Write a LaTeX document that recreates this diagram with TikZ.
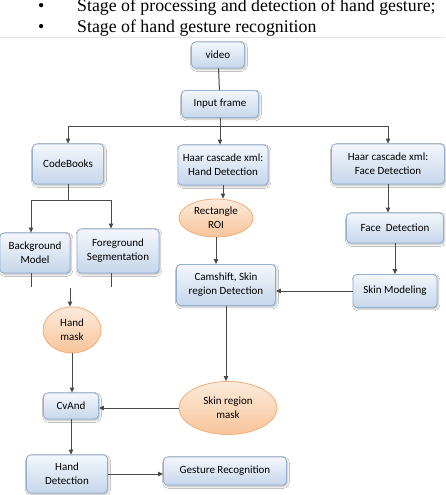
\documentclass[tikz,border=0pt]{standalone}
\usepackage{fontspec}
\setmainfont{Liberation Serif}
\newfontfamily\boxfont{Carlito}
\usepackage{tikz}
\usetikzlibrary{arrows.meta,positioning,shadows.blur,shapes.geometric}
\definecolor{boxtop}{HTML}{F4F7FC}
\definecolor{boxbot}{HTML}{C6D6EB}
\definecolor{boxline}{HTML}{93AFD3}
\definecolor{blobtop}{HTML}{FDEBDC}
\definecolor{blobbot}{HTML}{F8C49A}
\definecolor{blobline}{HTML}{F1AE7A}
\definecolor{wire}{HTML}{4A4A4A}
\definecolor{rule}{HTML}{E3E3E3}
\tikzset{
  stage/.style={
    rectangle, rounded corners=4pt,
    draw=boxline, line width=0.8pt,
    top color=boxtop, bottom color=boxbot,
    blur shadow={shadow blur steps=4, shadow xshift=1pt, shadow yshift=-1.5pt, shadow opacity=30},
    align=center, font=\boxfont\fontsize{11}{14}\selectfont,
    inner sep=1pt
  },
  blob/.style={
    ellipse, draw=blobline, line width=0.8pt,
    top color=blobtop, bottom color=blobbot,
    align=center, font=\boxfont\fontsize{11}{14}\selectfont,
    inner sep=0pt
  },
  wireline/.style={draw=wire, line width=1pt},
  edge/.style={wireline, -{Triangle[length=5pt, width=4.5pt]}},
  bullettext/.style={anchor=base west, font=\fontsize{17.8}{21}\selectfont, inner sep=0pt}
}

\begin{document}
\begin{tikzpicture}[x=1pt,y=-1pt]
\path[use as bounding box] (0,0) rectangle (445,495);
\fill[white] (0,0) rectangle (445,495);

% heading lines
\node[bullettext] (bulA) at (38,12) {\textbullet};
\node[bullettext] (lineA) at (77,12) {Stage of processing and detection of hand gesture;};
\node[bullettext] (bulB) at (38,33) {\textbullet};
\node[bullettext] (lineB) at (77,33) {Stage of hand gesture recognition};
\draw[rule, line width=0.8pt] (0,37) -- (445,37);

\node[stage, minimum width=53pt, minimum height=26pt] (video) at (218,55) {video};
\node[stage, minimum width=77pt, minimum height=27pt] (input) at (220,104) {Input frame};
\draw[wireline] (video) -- (input);

\node[stage, minimum width=71pt, minimum height=40pt] (cb) at (68,164) {CodeBooks};
\node[stage, minimum width=90pt, minimum height=40pt] (hand) at (223,165) {Haar cascade xml:\\Hand Detection};
\node[stage, minimum width=113pt, minimum height=40pt] (face) at (388,164) {Haar cascade xml:\\Face Detection};
\draw[wireline] (input.south) -- ++(0,9) coordinate (bus);
\draw[edge] (bus) -| (cb.north);
\draw[edge] (bus) -| (face.north);
\draw[edge] (bus) -- (bus |- hand.north);

\node[stage, minimum width=70pt, minimum height=40pt] (bg) at (35,253) {Background\\Model};
\node[stage, minimum width=82pt, minimum height=44pt] (fg) at (118,251) {Foreground\\Segmentation};
\draw[wireline] (cb.south) -- ++(0,16) coordinate (split);
\draw[edge] (split) -| ([xshift=-4pt]bg.north);
\draw[edge] (split) -| ([xshift=-7pt]fg.north);
\coordinate (bgend) at (31,287);
\coordinate (fgend) at (111,287);
\draw[wireline] (bg.south -| bgend) -- (bgend);
\draw[wireline] (fg.south -| fgend) -- (fgend);

\node[blob, minimum width=74pt, minimum height=38pt] (roi) at (216,218) {Rectangle\\ROI};
\node[stage, minimum width=99pt, minimum height=41pt] (cam) at (226,285) {Camshift, Skin\\region Detection};
\draw[edge] (hand.south) -- (hand.south |- roi.north);
\draw[edge] (roi.south) -- (roi.south |- cam.north);

\node[stage, minimum width=97pt, minimum height=30pt] (facedet) at (395,228) {Face\ \ Detection};
\node[stage, minimum width=84pt, minimum height=33pt] (skinmod) at (395,291) {Skin Modeling};
\draw[edge] (face.south) -- (face.south |- facedet.north);
\draw[edge] (facedet) -- (skinmod);
\draw[edge] (skinmod.west) -- (skinmod.west -| cam.east);

\coordinate (maskin) at (70,288);
\node[blob, minimum width=58pt, minimum height=46pt] (handmask) at (72,330) {Hand\\mask};
\draw[edge] (maskin) -- (maskin |- handmask.north);

\node[blob, minimum width=98pt, minimum height=53pt] (skinmask) at (228,408) {Skin region\\mask};
\node[stage, minimum width=55pt, minimum height=26pt] (cvand) at (71,406) {CvAnd};
\draw[edge] (cam.south) -- (cam.south |- skinmask.north);
\draw[edge] (handmask.south) -- (handmask.south |- cvand.north);
\draw[edge] (skinmask.west) -- (skinmask.west -| cvand.east);

\node[stage, minimum width=81pt, minimum height=38pt] (handdet) at (67,474) {Hand\\Detection};
\node[stage, minimum width=123pt, minimum height=28pt] (gesture) at (225,471) {Gesture Recognition};
\draw[edge] (cvand.south) -- (cvand.south |- handdet.north);
\draw[edge] (handdet.east) -- (handdet.east -| gesture.west);
\end{tikzpicture}
\end{document}
